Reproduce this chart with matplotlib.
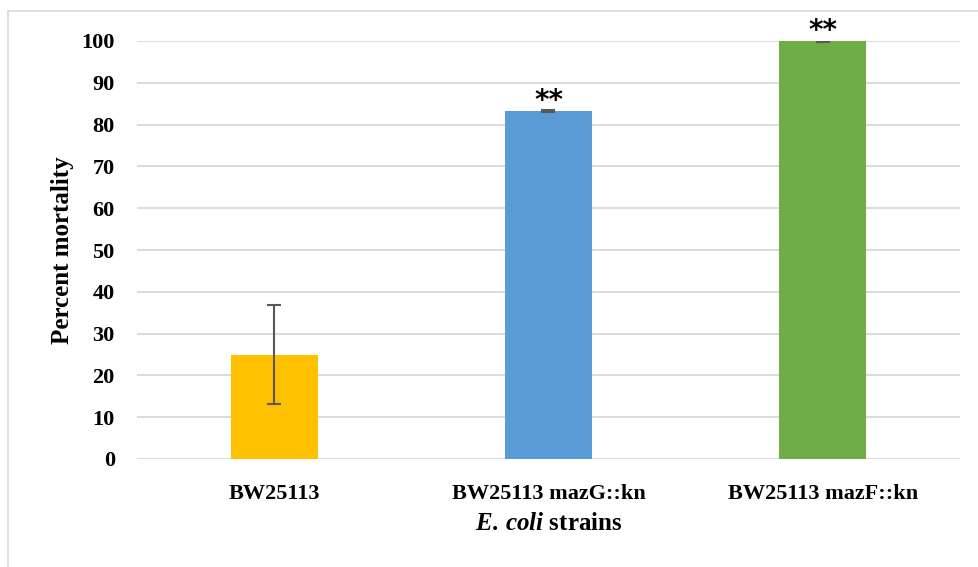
import matplotlib.pyplot as plt
from matplotlib.patches import Rectangle

strains = ['BW25113', 'BW25113 mazG::kn', 'BW25113 mazF::kn']
mortality = [25.0, 83.3, 100.0]
errors = [11.8, 0.3, 0.3]
colors = ['#FFC000', '#5B9BD5', '#70AD47']
marks = ['', '**', '**']

plt.rcParams['font.family'] = 'Liberation Serif'
plt.rcParams['font.weight'] = 'bold'
plt.rcParams['mathtext.fontset'] = 'custom'
plt.rcParams['mathtext.it'] = 'Liberation Serif:italic:bold'
plt.rcParams['mathtext.rm'] = 'Liberation Serif:bold'

fig = plt.figure(figsize=(9.79, 5.67), dpi=100)
fig.patches.append(Rectangle((8 / 979, -0.1), 1.2, 1.1 - 11 / 567, transform=fig.transFigure,
                             fill=False, edgecolor='#D9D9D9', linewidth=1.2))
ax = fig.add_axes([137 / 979, 1 - 459 / 567, (960 - 137) / 979, (459 - 41) / 567])

x = range(len(strains))
ax.bar(x, mortality, width=0.317, color=colors, zorder=3)
ax.errorbar(x, mortality, yerr=errors, fmt='none', ecolor='#595959', elinewidth=1.5,
            capsize=5, capthick=1.5, zorder=4)
for i, (v, e, m) in enumerate(zip(mortality, errors, marks)):
    if m:
        ax.text(i, v + e - 1.2, m, ha='center', va='bottom', fontsize=20,
                family='DejaVu Sans', fontweight='bold', clip_on=False, zorder=5)

ax.set_xlim(-0.5, 2.5)
ax.set_ylim(0, 100)
ax.set_yticks(range(0, 101, 10))
ax.set_xticks(list(x))
ax.set_xticklabels(strains)
ax.grid(axis='y', color='#D9D9D9', linewidth=1.3, zorder=0)
for s in ax.spines.values():
    s.set_visible(False)
ax.tick_params(axis='y', length=0, pad=16, labelsize=16)
ax.tick_params(axis='x', length=0, pad=18, labelsize=16)
ax.set_ylabel('Percent mortality', fontsize=18, fontweight='bold', labelpad=5)
ax.set_xlabel(r'$\mathit{E.\,coli}$ strains', fontsize=18, fontweight='bold', labelpad=6)

fig.savefig('out.png', dpi=100)
